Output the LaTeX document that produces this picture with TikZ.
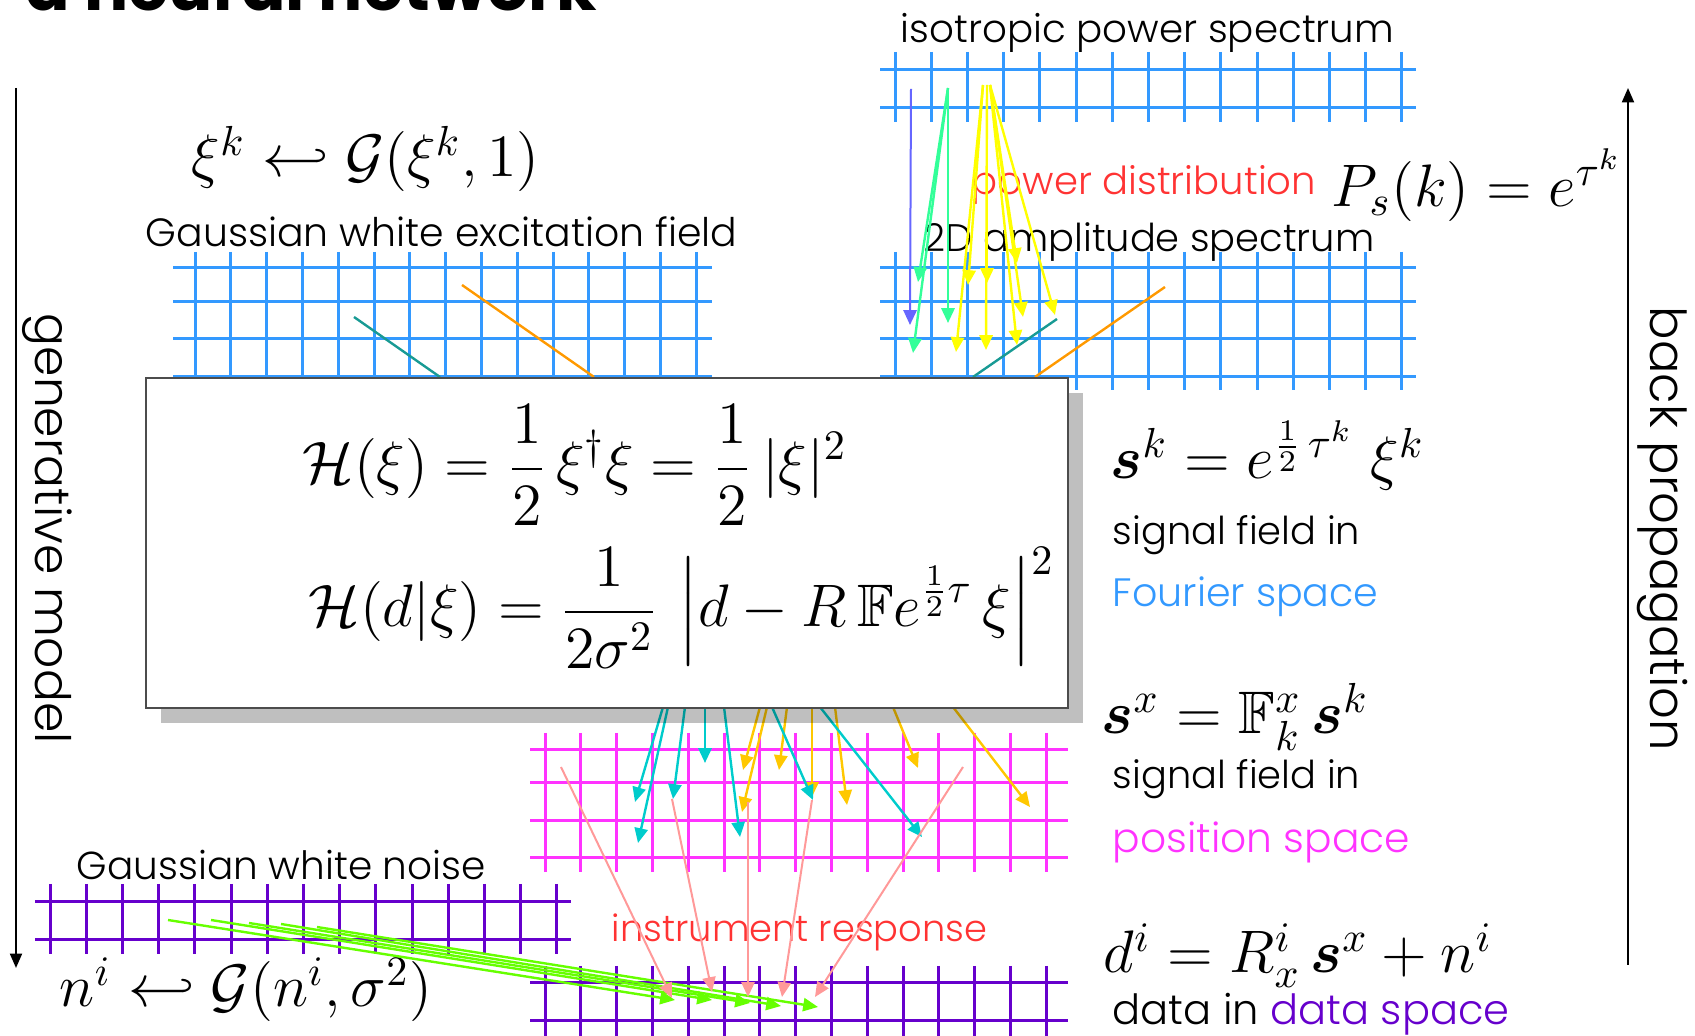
\documentclass[tikz,border=0pt]{standalone}
\usepackage{fix-cm}
\usepackage{amsmath,amssymb}
\usepackage[no-math]{fontspec}
\setmainfont{Poppins}[UprightFont=* Light,BoldFont=* Bold]
\usetikzlibrary{arrows.meta}
\definecolor{gblue}{HTML}{3399FF}
\definecolor{gmag}{HTML}{FF33FF}
\definecolor{gpurp}{HTML}{6600CC}
\definecolor{gteal}{HTML}{189A94}
\definecolor{gorange}{HTML}{FF9900}
\definecolor{gred}{HTML}{FF3333}
\definecolor{aviolet}{HTML}{6666FF}
\definecolor{agreen}{HTML}{33FF99}
\definecolor{ayellow}{HTML}{FFFF00}
\definecolor{acyan}{HTML}{00CCCC}
\definecolor{agold}{HTML}{FFC800}
\definecolor{apink}{HTML}{FF9999}
\definecolor{alime}{HTML}{66FF00}
\newcommand{\fsz}[1]{\fontsize{#1}{#1}\selectfont}
\tikzset{
  gridline/.style={line width=0.75pt},
  conn/.style={line width=0.6pt,-{Triangle[length=3.7pt,width=3.3pt]}},
  thinconn/.style={line width=0.5pt,-{Triangle[length=3.7pt,width=3.3pt]}},
  axisarrow/.style={line width=0.5pt,-{Triangle[length=3.6pt,width=3pt]}},
  lbl/.style={anchor=base west,inner sep=0pt},
  eq/.style={anchor=base west,inner sep=0pt,font=\fontsize{15}{18}\selectfont},
}
\begin{document}
\begin{tikzpicture}[x=0.25pt,y=-0.25pt]
\useasboundingbox (0,0) rectangle (1695,1036);

% ---------- grids ----------
\foreach \y in {70,108} \draw[gridline,gblue] (880,\y) -- (1416,\y);
\foreach \i in {0,...,14} \draw[gridline,gblue] ({895+36.2*\i},52) -- ({895+36.2*\i},122);
\foreach \y in {268,302,339,377} \draw[gridline,gblue] (173,\y) -- (712,\y);
\foreach \i in {0,...,14} \draw[gridline,gblue] ({195+35.8*\i},252) -- ({195+35.8*\i},390);
\foreach \y in {268,302,339,377} \draw[gridline,gblue] (880,\y) -- (1416,\y);
\foreach \i in {0,...,14} \draw[gridline,gblue] ({895+36.2*\i},252) -- ({895+36.2*\i},390);
\foreach \y in {750,783,821,858} \draw[gridline,gmag] (530,\y) -- (1068,\y);
\foreach \i in {0,...,14} \draw[gridline,gmag] ({545+35.8*\i},733) -- ({545+35.8*\i},872);
\foreach \y in {902,940} \draw[gridline,gpurp] (35,\y) -- (571,\y);
\foreach \i in {0,...,14} \draw[gridline,gpurp] ({50+36.2*\i},884) -- ({50+36.2*\i},954);
\foreach \y in {983,1021} \draw[gridline,gpurp] (530,\y) -- (1068,\y);
\foreach \i in {0,...,14} \draw[gridline,gpurp] ({545+35.8*\i},966) -- ({545+35.8*\i},1040);

% ---------- connections hidden behind the box ----------
\coordinate (lt1) at (354,317); \coordinate (lt2) at (440,377);
\coordinate (lo1) at (462,285); \coordinate (lo2) at (594,377);
\coordinate (rt1) at (1057,319); \coordinate (rt2) at (973,377);
\coordinate (ro1) at (1165,287); \coordinate (ro2) at (1035,377);
\draw[line width=0.6pt,gteal] (lt1) -- (lt2);
\draw[line width=0.6pt,gorange] (lo1) -- (lo2);
\draw[line width=0.6pt,gteal] (rt1) -- (rt2);
\draw[line width=0.6pt,gorange] (ro1) -- (ro2);

\foreach \n/\a/\c/\d in {1/760/743/770,2/767/742/812,3/787/779/770,4/812/812/797,5/835/847/805,6/893/918/768,7/953/1030/807}{
  \coordinate (os\n) at (\a,707); \coordinate (oe\n) at (\c,\d);
  \draw[conn,agold] (os\n) -- (oe\n);
}
\foreach \n/\a/\c/\d in {1/663/635/802,2/668/638/843,3/685/673/799,4/705/705/763,5/724/740/837,6/772/813/800,7/820/922/837}{
  \coordinate (cs\n) at (\a,707); \coordinate (ce\n) at (\c,\d);
  \draw[conn,acyan] (cs\n) -- (ce\n);
}

% ---------- box ----------
\fill[black,opacity=0.25] (161,393) rectangle (1083,723);
\node[draw=black!70,line width=0.4pt,fill=white,anchor=north west,minimum width=230.5pt,minimum height=82.5pt,inner sep=0pt] (box) at (145,377) {};
\node[eq] (h1) at (302,484) {$\displaystyle \mathcal{H}(\xi) = \frac{1}{2}\,\xi^\dagger\xi = \frac{1}{2}\,|\xi|^2$};
\node[eq] (h2) at (308,627) {$\displaystyle \mathcal{H}(d|\xi) = \frac{1}{2\sigma^2}\,\left|d - R\,\mathbb{F}e^{\frac12\tau}\,\xi\right|^2$};

% ---------- texts ----------
\node[lbl,font=\fsz{16.4}\bfseries] (title) at (25,11) {a neural network};
\node[lbl,font=\fsz{9.7}] (iso) at (900,43) {isotropic power spectrum};
\node[lbl,font=\fsz{9.65},text=gred] (pdist) at (971,195) {power distribution};
\node[lbl,font=\fsz{9.6}] (amp) at (923,252) {2D amplitude spectrum};
\node[lbl,font=\fsz{9.85}] (gwef) at (145,247) {Gaussian white excitation field};
\node[lbl,font=\fsz{9.75}] (gwn) at (76,880) {Gaussian white noise};
\node[lbl,font=\fsz{9.2},text=gred] (instr) at (611,942) {instrument response};
\node[lbl,font=\fsz{9.6}] (sf1) at (1112,545) {signal field in};
\node[lbl,font=\fsz{9.9},text=gblue] (four) at (1112,607) {Fourier space};
\node[lbl,font=\fsz{9.6}] (sf2) at (1112,789) {signal field in};
\node[lbl,font=\fsz{10.2},text=gmag] (pos) at (1112,853) {position space};
\node[lbl,font=\fsz{10.4}] (dat) at (1112,1025) {data in \textcolor{gpurp}{data space}};
\node[lbl,font=\fsz{12.2},rotate=-90] (gen) at (36,313) {generative model};
\node[lbl,font=\fsz{12.4},rotate=-90] (back) at (1650,306) {back propagation};

\node[eq] (xi) at (191,177) {$\xi^k \hookleftarrow \mathcal{G}(\xi^k,1)$};
\node[eq] (ps) at (1331,207) {$P_s(k) = e^{\tau^k}$};
\node[eq] (sk) at (1110,479) {$\boldsymbol{s}^k = e^{\frac{1}{2}\,\tau^k}\;\xi^k$};
\node[eq] (sx) at (1101,734) {$\boldsymbol{s}^x = \mathbb{F}^x_k\,\boldsymbol{s}^k$};
\node[eq] (di) at (1103,973) {$d^i = R^i_x\,\boldsymbol{s}^x + n^i$};
\node[eq] (ni) at (59,1007) {$n^i \hookleftarrow \mathcal{G}(n^i,\sigma^2)$};

% ---------- side arrows ----------
\coordinate (gtop) at (16,88); \coordinate (gbot) at (16,968);
\draw[axisarrow] (gtop) -- (gbot);
\coordinate (bbot) at (1628,965); \coordinate (btop) at (1628,88);
\draw[axisarrow] (bbot) -- (btop);

% ---------- top arrows ----------
\coordinate (vs) at (911,89); \coordinate (ve) at (910,325);
\draw[thinconn,aviolet] (vs) -- (ve);
\coordinate (gs) at (948,88);
\foreach \n/\c/\d in {1/918/282,2/913/353,3/948/323}{
  \coordinate (ge\n) at (\c,\d);
  \draw[conn,agreen] (gs) -- (ge\n);
}
\coordinate (ys0) at (983,85); \coordinate (ys1) at (987,85); \coordinate (ys2) at (990,85);
\foreach \n/\s/\c/\d in {1/0/968/285,2/0/956/352,3/1/987/283,4/1/986/350,5/2/1017/263,6/2/1023/317,7/2/1017/345,8/2/1055/315}{
  \coordinate (ye\n) at (\c,\d);
  \draw[conn,ayellow] (ys\s) -- (ye\n);
}

% ---------- noise -> data ----------
\foreach \n/\a/\b/\c/\d in {1/168/920/675/1000,2/211/920/712/1000,3/249/923/750/1003,4/281/924/781/1006,5/317/927/818/1007}{
  \coordinate (ns\n) at (\a,\b); \coordinate (ne\n) at (\c,\d);
  \draw[conn,alime] (ns\n) -- (ne\n);
}
% ---------- instrument response ----------
\foreach \n/\a/\b/\c/\d in {1/561/767/672/998,2/672/799/712/992,3/748/802/748/997,4/812/800/782/997,5/963/767/815/997}{
  \coordinate (rs\n) at (\a,\b); \coordinate (re\n) at (\c,\d);
  \draw[thinconn,apink] (rs\n) -- (re\n);
}
\end{tikzpicture}
\end{document}
